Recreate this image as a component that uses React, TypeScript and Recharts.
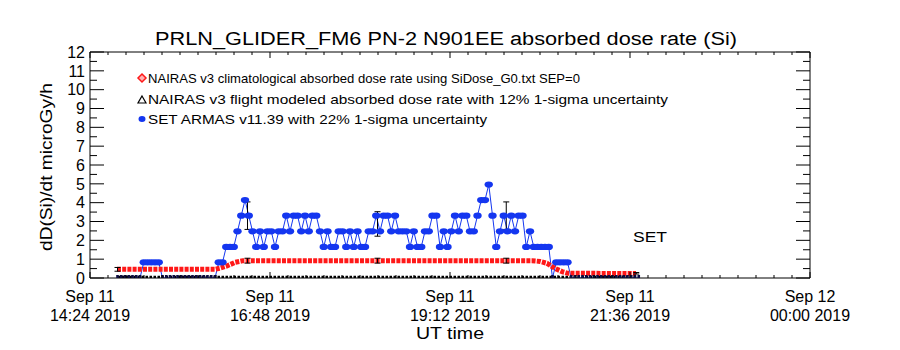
import React from "react";
import { ComposedChart, ErrorBar, Line, Scatter, XAxis, YAxis } from "recharts";

const FONT = "'Liberation Sans', Arial, sans-serif";
const BLUE = "#1436f0";
const RED = "#ff1818";

// x values are minutes after Sep 11 14:24 UT
const X_DOMAIN = [0, 576];
const X_TICKS = [0, 144, 288, 432, 576];
const X_TICK_DAYS = ["Sep 11", "Sep 11", "Sep 11", "Sep 11", "Sep 12"];
const X_TICK_TIMES = ["14:24 2019", "16:48 2019", "19:12 2019", "21:36 2019", "00:00 2019"];
const X_MINOR = Array.from({ length: 41 }, (_, i) => i * 14.4);
const Y_DOMAIN = [0, 12];
const Y_MINOR = Array.from({ length: 25 }, (_, i) => i * 0.5);

// NAIRAS v3 climatological
const NAIRAS_T = [21.6, 100, 104, 109.6, 116, 122.4, 353.6, 360, 365.6, 372, 377.6, 382.4, 436.8];
const NAIRAS_DOSE = [0.46, 0.46, 0.52, 0.64, 0.83, 0.92, 0.92, 0.88, 0.78, 0.51, 0.34, 0.25, 0.24];

// NAIRAS v3 flight modeled, 12% 1-sigma
const FLIGHT_T = [22, 126, 230, 333, 437];
const FLIGHT_DOSE = [0.46, 0.92, 0.92, 0.92, 0.25];
const FLIGHT_SIGMA = [0.1, 0.13, 0.13, 0.13, 0.04];
const FLIGHT_TRACK_T = [22, 438];
const FLIGHT_TRACK_DOSE = [0.05, 0.05];

// SET ARMAS v11.39, one sample every 3 min from 14:46
const ARMAS_T0 = 22;
const ARMAS_STEP = 3;
const ARMAS_DOSE = [
  0, 0, 0, 0, 0, 0, 0, 0.83, 0.83, 0.83, 0.83, 0.83, 0, 0, 0, 0, 0, 0, 0, 0, 0, 0, 0, 0, 0, 0, 0,
  0.83, 0.83, 1.65, 1.65, 1.65, 2.48, 3.31, 4.14, 3.31, 2.48, 1.65, 2.48, 1.65, 2.48, 2.48, 1.65, 2.48, 2.48,
  3.31, 2.48, 3.31, 3.31, 2.48, 3.31, 2.48, 3.31, 3.31, 2.48,
  1.65, 2.48, 1.65, 1.65, 2.48, 2.48, 1.65, 2.48, 1.65, 2.48, 1.65, 1.65, 2.48, 2.48,
  3.31, 2.48, 3.31, 3.31, 2.48, 3.31,
  2.48, 2.48, 2.48, 1.65, 2.48, 1.65, 1.65, 2.48, 2.48,
  3.31, 3.31, 1.65, 2.48, 1.65, 2.48,
  3.31, 2.48, 3.31, 3.31, 2.48, 2.48,
  3.31, 4.14, 4.14, 4.96, 3.31, 1.65, 2.48,
  3.31, 2.48, 3.31, 2.48, 3.31, 3.31, 1.65, 2.48,
  1.65, 1.65, 1.65, 1.65, 1.65,
  0, 0.83, 0.83, 0.83, 0.83,
  0, 0, 0, 0, 0, 0, 0, 0, 0, 0, 0, 0, 0, 0, 0, 0, 0, 0, 0,
];
const ARMAS_ERR_T = [126, 230, 333];
const ARMAS_ERR_DOSE = [3.31, 2.87, 3.31];
const ARMAS_ERR_SIGMA = [0.73, 0.65, 0.73];

const nairasData = NAIRAS_T.map((t, i) => ({ t, v: NAIRAS_DOSE[i] }));
const flightData = FLIGHT_T.map((t, i) => ({ t, v: FLIGHT_DOSE[i], e: FLIGHT_SIGMA[i] }));
const flightTrack = FLIGHT_TRACK_T.map((t, i) => ({ t, v: FLIGHT_TRACK_DOSE[i] }));
const armasData = ARMAS_DOSE.map((v, i) => ({ t: ARMAS_T0 + i * ARMAS_STEP, v }));
const armasErrData = ARMAS_ERR_T.map((t, i) => ({ t, v: ARMAS_ERR_DOSE[i], e: ARMAS_ERR_SIGMA[i] }));

const NoShape = () => <g />;

const armasDot = (p: any) => {
  if (p.payload.v === 0) {
    return <rect key={`a${p.index}`} x={p.cx - 1.3} y={p.cy - 3} width={2.6} height={3} fill="#0c0c40" />;
  }
  return <ellipse key={`a${p.index}`} cx={p.cx} cy={p.cy} rx={4.2} ry={3.1} fill={BLUE} />;
};

// ticks point into the plot (IDL style); (x, y) arrive on the axis line
const isMajorX = (v: number) => X_TICKS.includes(v);
const isMajorY = (v: number) => Number.isInteger(v);

const BottomTick = (p: any) => {
  const v = p.payload.value;
  const i = X_TICKS.indexOf(v);
  return (
    <g>
      <line x1={p.x} x2={p.x} y1={p.y} y2={p.y - (isMajorX(v) ? 6 : 3)} stroke="#000" />
      {i >= 0 && (
        <text x={p.x} y={p.y} textAnchor="middle" fill="#000" fontSize={16} fontFamily={FONT}>
          <tspan x={p.x} dy={24}>{X_TICK_DAYS[i]}</tspan>
          <tspan x={p.x} dy={19}>{X_TICK_TIMES[i]}</tspan>
        </text>
      )}
    </g>
  );
};

const TopTick = (p: any) => (
  <line x1={p.x} x2={p.x} y1={p.y} y2={p.y + (isMajorX(p.payload.value) ? 6 : 3)} stroke="#000" />
);

const LeftTick = (p: any) => {
  const v = p.payload.value;
  return (
    <g>
      <line x1={p.x} x2={p.x + (isMajorY(v) ? 14 : 7)} y1={p.y} y2={p.y} stroke="#000" />
      {isMajorY(v) && (
        <text x={p.x - 5} y={p.y} dy="0.36em" textAnchor="end" fill="#000" fontSize={16} fontFamily={FONT}>
          {v}
        </text>
      )}
    </g>
  );
};

const RightTick = (p: any) => (
  <line x1={p.x} x2={p.x - (isMajorY(p.payload.value) ? 14 : 7)} y1={p.y} y2={p.y} stroke="#000" />
);

export default function App() {
  return (
    <div style={{ position: "absolute", left: 0, top: 0, width: 900, height: 350, background: "#fff" }}>
      <ComposedChart width={900} height={350} margin={{ top: 52, right: 90, bottom: 12, left: 8 }}>
        <XAxis
          xAxisId="b"
          type="number"
          dataKey="t"
          domain={X_DOMAIN}
          allowDataOverflow
          ticks={X_MINOR}
          interval={0}
          height={60}
          tickSize={0}
          tickMargin={0}
          tickLine={false}
          axisLine={{ stroke: "#000" }}
          tick={<BottomTick />}
        />
        <XAxis
          xAxisId="t"
          orientation="top"
          type="number"
          dataKey="t"
          domain={X_DOMAIN}
          allowDataOverflow
          ticks={X_MINOR}
          interval={0}
          mirror
          height={1}
          tickSize={0}
          tickMargin={0}
          tickLine={false}
          axisLine={{ stroke: "#000" }}
          tick={<TopTick />}
        />
        <YAxis
          yAxisId="l"
          type="number"
          domain={Y_DOMAIN}
          allowDataOverflow
          ticks={Y_MINOR}
          interval={0}
          width={82}
          tickSize={0}
          tickMargin={0}
          tickLine={false}
          axisLine={{ stroke: "#000" }}
          tick={<LeftTick />}
        />
        <YAxis
          yAxisId="r"
          orientation="right"
          type="number"
          domain={Y_DOMAIN}
          allowDataOverflow
          ticks={Y_MINOR}
          interval={0}
          mirror
          width={1}
          tickSize={0}
          tickMargin={0}
          tickLine={false}
          axisLine={{ stroke: "#000" }}
          tick={<RightTick />}
        />

        {/* carries the top and right frame axes; draws nothing itself */}
        <Line xAxisId="t" yAxisId="r" data={flightTrack} dataKey="v" stroke="none" dot={false} isAnimationActive={false} />

        <Line
          xAxisId="b"
          yAxisId="l"
          data={armasData}
          dataKey="v"
          type="linear"
          stroke={BLUE}
          strokeWidth={1}
          dot={armasDot}
          isAnimationActive={false}
        />
        <Line
          xAxisId="b"
          yAxisId="l"
          data={flightTrack}
          dataKey="v"
          type="linear"
          stroke="#000"
          strokeWidth={2.5}
          strokeDasharray="2.5 1.5"
          dot={false}
          isAnimationActive={false}
        />
        <Line
          xAxisId="b"
          yAxisId="l"
          data={nairasData}
          dataKey="v"
          type="linear"
          stroke={RED}
          strokeWidth={5}
          strokeDasharray="4 1.2"
          dot={false}
          isAnimationActive={false}
        />
        <Scatter xAxisId="b" yAxisId="l" data={flightData} dataKey="v" shape={NoShape} isAnimationActive={false}>
          <ErrorBar dataKey="e" direction="y" width={3} stroke="#000" strokeWidth={1} />
        </Scatter>
        <Scatter xAxisId="b" yAxisId="l" data={armasErrData} dataKey="v" shape={NoShape} isAnimationActive={false}>
          <ErrorBar dataKey="e" direction="y" width={3} stroke="#000" strokeWidth={1} />
        </Scatter>
      </ComposedChart>

      <svg width={900} height={350} style={{ position: "absolute", left: 0, top: 0, pointerEvents: "none" }} fontFamily={FONT} fill="#000">
        <text x={155} y={45} fontSize={18} textLength={582} lengthAdjust="spacingAndGlyphs">
          PRLN_GLIDER_FM6 PN-2 N901EE absorbed dose rate (Si)
        </text>
        <text
          x={0}
          y={0}
          fontSize={16}
          textAnchor="middle"
          textLength={168}
          lengthAdjust="spacingAndGlyphs"
          transform="translate(52,167) rotate(-90)"
        >
          dD(Si)/dt microGy/h
        </text>
        <text x={450} y={339} fontSize={16} textAnchor="middle" textLength={68} lengthAdjust="spacingAndGlyphs">
          UT time
        </text>
        <text x={633} y={242} fontSize={14} textLength={34} lengthAdjust="spacingAndGlyphs">
          SET
        </text>

        <polygon points="142,74 146,78 142,82 138,78" fill="#ffb0b0" stroke={RED} strokeWidth={1.5} />
        <text x={148} y={83} fontSize={13} textLength={432} lengthAdjust="spacingAndGlyphs">
          NAIRAS v3 climatological absorbed dose rate using SiDose_G0.txt SEP=0
        </text>
        <polygon points="142,96 146,103 138,103" fill="#fff" stroke="#000" strokeWidth={1.2} />
        <text x={148} y={104} fontSize={13} textLength={520} lengthAdjust="spacingAndGlyphs">
          NAIRAS v3 flight modeled absorbed dose rate with 12% 1-sigma uncertainty
        </text>
        <ellipse cx={142} cy={119} rx={3.5} ry={3} fill={BLUE} />
        <text x={148} y={124} fontSize={13} textLength={339} lengthAdjust="spacingAndGlyphs">
          SET ARMAS v11.39 with 22% 1-sigma uncertainty
        </text>
      </svg>
    </div>
  );
}
